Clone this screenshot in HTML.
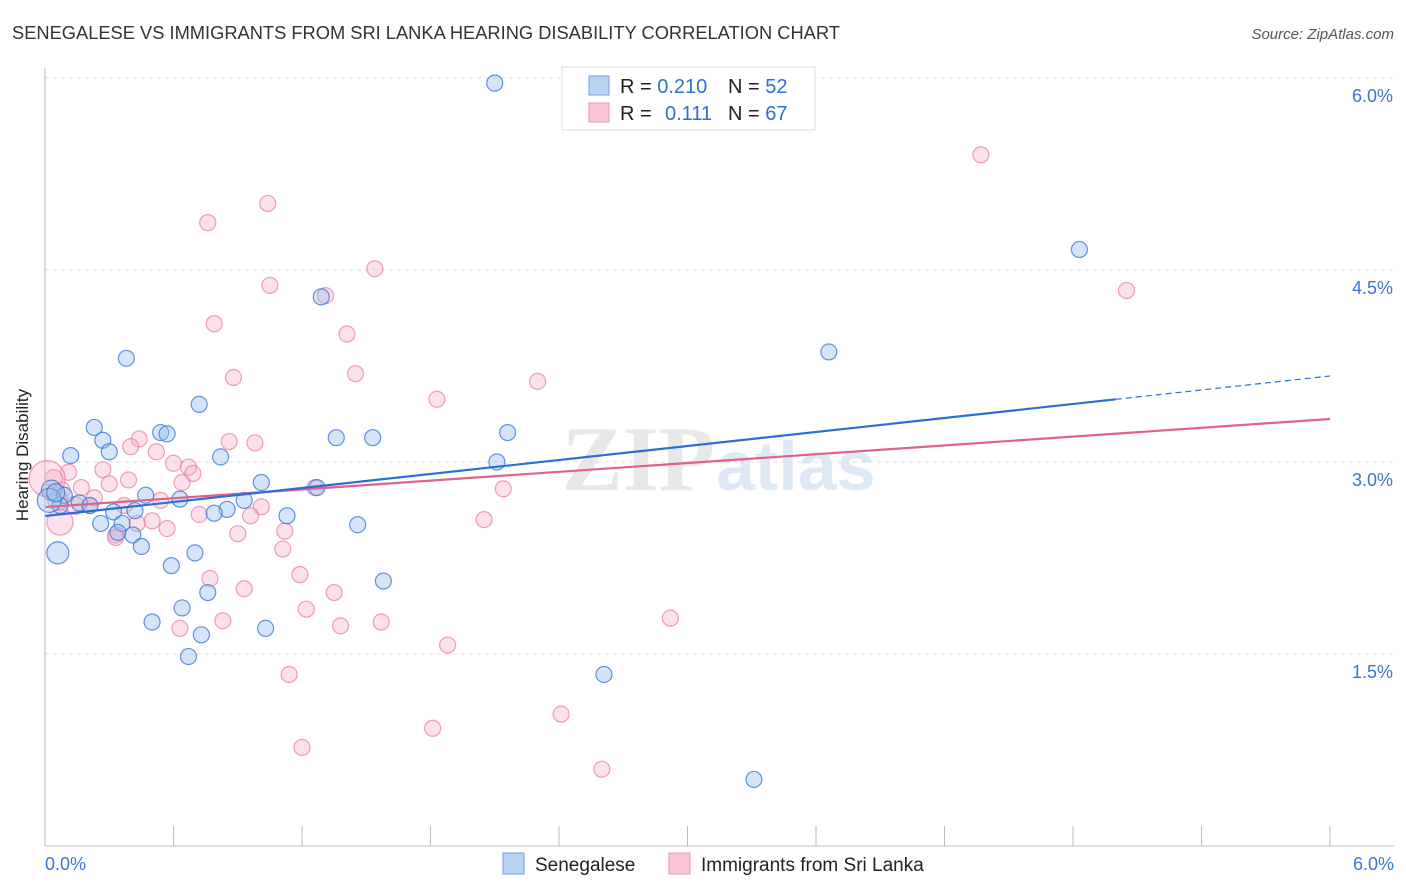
<!DOCTYPE html>
<html><head><meta charset="utf-8"><style>
body{margin:0;background:#fff;font-family:"Liberation Sans",sans-serif}
svg{display:block}
</style></head><body>
<svg id="chart" width="1406" height="892" xmlns="http://www.w3.org/2000/svg">
<text x="12" y="39" font-size="18.3" fill="#333">SENEGALESE VS IMMIGRANTS FROM SRI LANKA HEARING DISABILITY CORRELATION CHART</text>
<text x="1394" y="39" font-size="15" fill="#555" text-anchor="end" font-style="italic">Source: ZipAtlas.com</text>
<text x="715" y="490" font-size="92" fill="#e8e8e8" text-anchor="end" font-family="Liberation Serif,serif" font-weight="bold">ZIP</text>
<text x="716" y="490" font-size="70" fill="#dfe9f6" font-weight="bold">atlas</text>
<g id="grid"></g>
<g id="pts"></g>
<g id="lines"></g>
<line x1="45" y1="68" x2="45" y2="846" stroke="#bbb"/>
<line x1="45" y1="846" x2="1394" y2="846" stroke="#bbb"/>
<text x="28" y="455" font-size="17" fill="#222" text-anchor="middle" transform="rotate(-90 28 455)">Hearing Disability</text>
<text x="45" y="870" font-size="18" fill="#3a76d0">0.0%</text>
<text x="1394" y="870" font-size="18" fill="#3a76d0" text-anchor="end">6.0%</text>
<g>
<rect x="562" y="67" width="253" height="63" fill="#fff" stroke="#ddd"/>
<rect x="589" y="76" width="20" height="19" fill="#b9d3f5" stroke="#6f9fe0"/>
<rect x="589" y="103" width="20" height="19" fill="#f9c6d5" stroke="#ec96b0"/>
<text x="620" y="93" font-size="20" fill="#222">R = <tspan fill="#2f6fd0">0.210</tspan></text>
<text x="728" y="93" font-size="20" fill="#222">N = <tspan fill="#2f6fd0">52</tspan></text>
<text x="620" y="120" font-size="20" fill="#222">R = <tspan fill="#2f6fd0" x="665">0.111</tspan></text>
<text x="728" y="120" font-size="20" fill="#222">N = <tspan fill="#2f6fd0">67</tspan></text>
</g>
<g>
<rect x="503" y="853" width="21" height="21" fill="#b9d3f5" stroke="#6f9fe0"/>
<text x="535" y="871" font-size="19" fill="#222">Senegalese</text>
<rect x="669" y="853" width="21" height="21" fill="#f9c6d5" stroke="#ec96b0"/>
<text x="701" y="871" font-size="19" fill="#222">Immigrants from Sri Lanka</text>
</g>
</svg>
<script>
const yTicks=[1.5,3.0,4.5,6.0];
const yTickLabels=["1.5%","3.0%","4.5%","6.0%"];
const xTickCount=10;
const blueX=[2.10,4.83,1.29,3.66,0.38,0.72,0.23,0.54,0.57,0.27,1.36,1.53,2.16,0.30,0.12,0.82,2.11,1.01,1.27,0.03,0.09,0.47,0.63,0.93,0.16,0.07,0.21,0.42,0.85,0.79,0.32,1.13,0.26,0.36,1.46,0.41,0.34,0.45,0.06,0.70,0.59,1.58,0.76,0.64,0.50,1.03,0.73,0.67,2.61,3.31,0.02,0.05];
const blueY=[5.96,4.66,4.29,3.86,3.81,3.45,3.27,3.23,3.22,3.17,3.19,3.19,3.23,3.08,3.05,3.04,3.00,2.84,2.80,2.78,2.74,2.74,2.71,2.70,2.68,2.66,2.66,2.62,2.63,2.60,2.61,2.58,2.52,2.52,2.51,2.43,2.45,2.34,2.29,2.29,2.19,2.07,1.98,1.86,1.75,1.70,1.65,1.48,1.34,0.52,2.70,2.76];
const blueR=[8,8,8,8,8,8,8,8,8,8,8,8,8,8,8,8,8,8,8,10,8,8,8,8,8,8,8,8,8,8,8,8,8,8,8,8,8,8,11,8,8,8,8,8,8,8,8,8,8,8,12,9];
const pinkX=[4.37,1.04,0.76,1.54,1.05,5.05,1.31,0.79,1.41,1.45,0.88,2.30,1.83,0.44,0.98,0.86,0.40,0.52,0.60,0.67,0.27,0.11,0.69,0.04,0.39,0.30,0.64,0.17,1.26,2.14,0.08,0.54,0.21,0.37,1.01,0.72,0.96,0.50,0.57,0.43,2.05,1.12,0.90,0.33,0.33,0.07,1.11,1.19,0.77,1.35,0.93,1.22,0.83,1.38,1.57,0.63,2.92,1.88,1.14,2.41,1.81,1.20,2.60,0.01,0.06,0.14,0.23];
const pinkY=[5.40,5.02,4.87,4.51,4.38,4.34,4.30,4.08,4.00,3.69,3.66,3.63,3.49,3.18,3.15,3.16,3.12,3.08,2.99,2.96,2.94,2.92,2.91,2.87,2.86,2.83,2.84,2.80,2.80,2.79,2.78,2.70,2.66,2.66,2.65,2.59,2.58,2.54,2.48,2.52,2.55,2.46,2.44,2.43,2.41,2.53,2.32,2.12,2.09,1.98,2.01,1.85,1.76,1.72,1.75,1.70,1.78,1.57,1.34,1.03,0.92,0.77,0.60,2.87,2.70,2.66,2.72];
const pinkR=[8,8,8,8,8,8,8,8,8,8,8,8,8,8,8,8,8,8,8,8,8,8,8,9,8,8,8,8,8,8,8,8,8,8,8,8,8,8,8,8,8,8,8,8,8,13,8,8,8,8,8,8,8,8,8,8,8,8,8,8,8,8,8,18,10,9,8];
const blueTrend=[2.578,3.672];
const pinkTrend=[2.648,3.336];
const blueSolidEnd=5.0;
const NS="http://www.w3.org/2000/svg";
const X0=45,X1=1330,Y0=846,PXP=128;
function sx(v){return X0+(X1-X0)*v/6;}
function sy(v){return Y0-v*PXP;}
function mk(tag,attrs,parent){const e=document.createElementNS(NS,tag);for(const k in attrs)e.setAttribute(k,attrs[k]);parent.appendChild(e);return e;}
const grid=document.getElementById('grid');
yTicks.forEach((t,i)=>{
  const l=mk('line',{x1:45,x2:1394,y1:sy(t),y2:sy(t),stroke:'#ddd','stroke-dasharray':'4,4'},grid);
  
  
  const tx=mk('text',{x:1393,y:sy(t)+24,'font-size':18,fill:'#3a76d0','text-anchor':'end'},grid);
  tx.textContent=yTickLabels[i];
  
  
});
for(let i=1;i<=xTickCount;i++){
  const l=mk('line',{x1:sx(6*i/xTickCount),x2:sx(6*i/xTickCount),y1:826,y2:846,stroke:'#bbb'},grid);
  
  
}
const pts=document.getElementById('pts');
pinkX.forEach((v,i)=>{
  const c=mk('circle',{cx:sx(v),cy:sy(pinkY[i]),r:pinkR[i],fill:'rgba(246,170,195,0.35)',stroke:'rgba(232,120,155,0.7)','stroke-width':1.2},pts);
  
  
});
blueX.forEach((v,i)=>{
  const c=mk('circle',{cx:sx(v),cy:sy(blueY[i]),r:blueR[i],fill:'rgba(150,190,240,0.4)',stroke:'rgba(60,120,210,0.8)','stroke-width':1.2},pts);
  
  
});
const lines=document.getElementById('lines');
function ty(tr,x){return tr[0]+(tr[1]-tr[0])*x/6;}
const pl=mk('line',{x1:sx(0),y1:sy(ty(pinkTrend,0)),x2:sx(6),y2:sy(ty(pinkTrend,6)),stroke:'#e0608e','stroke-width':2.2},lines);


const bl=mk('line',{x1:sx(0),y1:sy(ty(blueTrend,0)),x2:sx(blueSolidEnd),y2:sy(ty(blueTrend,blueSolidEnd)),stroke:'#2a6fd6','stroke-width':2.2},lines);


const bd=mk('line',{x1:sx(blueSolidEnd),y1:sy(ty(blueTrend,blueSolidEnd)),x2:sx(6),y2:sy(ty(blueTrend,6)),stroke:'#2a6fd6','stroke-width':1.2,'stroke-dasharray':'6,4'},lines);


</script>
</body></html>
